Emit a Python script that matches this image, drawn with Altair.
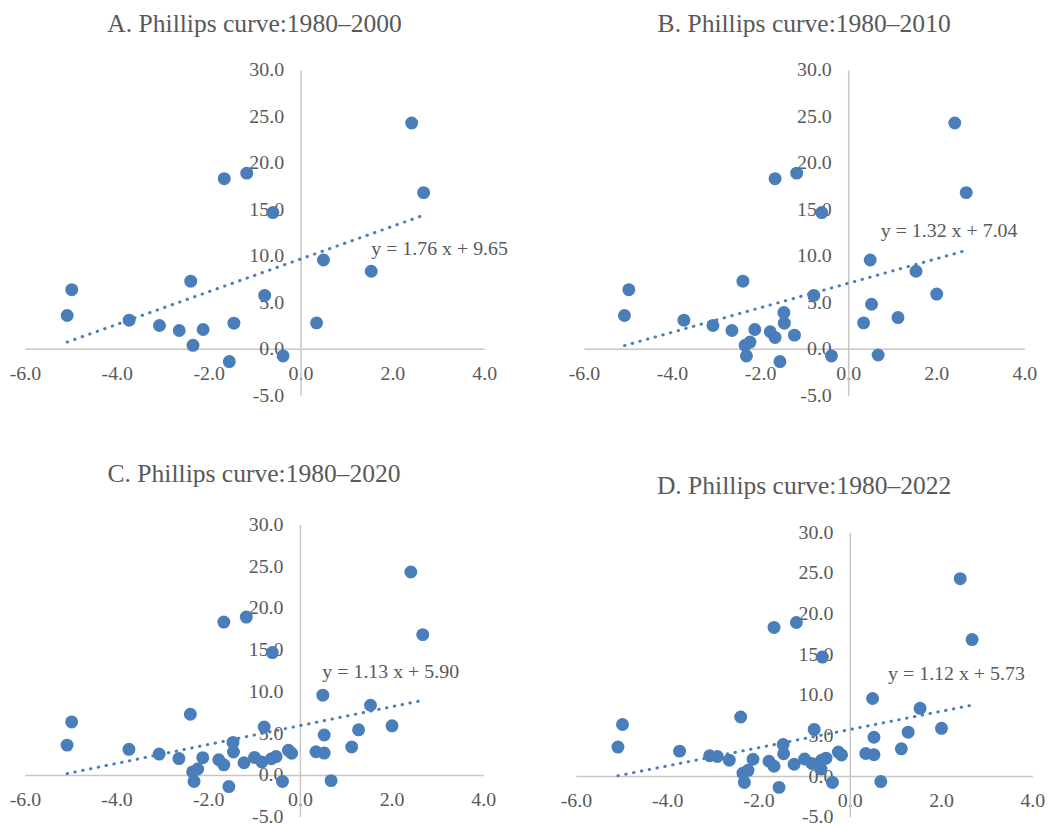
import altair as alt
import pandas as pd

# ---- data (x = output gap, y = inflation) ----
# points present from the 1980–2000 panel onward
x_1980_2000 = [2.42, 2.68, -1.66, -1.17, -0.60, 0.50, 1.54, -2.39, -4.98, -0.78,
               -5.08, -3.73, -3.07, -2.64, -2.12, -1.45, 0.35, -2.34, -1.55, -0.38]
y_1980_2000 = [24.3, 16.8, 18.3, 18.9, 14.65, 9.55, 8.34, 7.27, 6.35, 5.74,
               3.57, 3.07, 2.50, 1.96, 2.07, 2.75, 2.78, 0.36, -1.39, -0.78]
# points added in 2001–2010
x_2001_2010 = [-1.46, 0.53, 2.01, 1.13, -1.77, -1.66, -1.22, -2.23, 0.68, -2.31]
y_2001_2010 = [3.89, 4.78, 5.88, 3.35, 1.82, 1.21, 1.46, 0.71, -0.68, -0.78]
# points added in 2011–2020
x_2011_2020 = [1.28, -0.25, -0.18, 0.53, -0.99, -0.83, -0.62, -0.52]
y_2011_2020 = [5.40, 2.95, 2.60, 2.62, 2.10, 1.55, 1.95, 2.20]
# points added in 2021–2022
x_2021_2022 = [-2.90, -0.63]
y_2021_2022 = [2.41, 0.86]

titles = ["A. Phillips curve:1980–2000", "B. Phillips curve:1980–2010",
          "C. Phillips curve:1980–2020", "D. Phillips curve:1980–2022"]
slopes = [1.76, 1.32, 1.13, 1.12]
intercepts = [9.65, 7.04, 5.90, 5.73]

x_ticks = [-6, -4, -2, 0, 2, 4]
y_ticks = [-5, 0, 5, 10, 15, 20, 25, 30]

# ---- styling / layout ----
BLUE = "#4a7ebb"
GREY = "#595959"
FONT = "Liberation Serif"
X_DOM = [-6, 4]
Y_DOM = [-5, 30]
sizes = [(462, 327), (443, 327), (461, 294), (459, 286)]
eq_pos = [(1.54, 10.77), (0.74, 12.7), (0.49, 12.36), (0.84, 12.6)]
title_offset = [23, 23, 27, 23]

groups_x = [x_1980_2000, x_2001_2010, x_2011_2020, x_2021_2022]
groups_y = [y_1980_2000, y_2001_2010, y_2011_2020, y_2021_2022]

LABEL_EXPR = "(datum.value < 0 ? '-' : '') + format(abs(datum.value), '.1f')"


def panel(i):
    w, h = sizes[i]
    xs = sum(groups_x[: i + 1], [])
    ys = sum(groups_y[: i + 1], [])
    df = pd.DataFrame({"x": xs, "y": ys})
    xmin, xmax = min(xs), max(xs)
    line_df = pd.DataFrame({"x": [xmin, xmax],
                            "y": [slopes[i] * xmin + intercepts[i],
                                  slopes[i] * xmax + intercepts[i]]})
    lab_df = pd.DataFrame({"label": [f"y = {slopes[i]:.2f} x + {intercepts[i]:.2f}"]})

    xscale = alt.Scale(domain=X_DOM, nice=False, zero=False)
    yscale = alt.Scale(domain=Y_DOM, nice=False, zero=False)

    x_axis = alt.Axis(values=x_ticks, labelExpr=LABEL_EXPR, title=None, grid=False,
                      ticks=False, domainColor="#c6c6c6", domainWidth=1.5,
                      labelFont=FONT, labelFontSize=20, labelColor=GREY,
                      labelPadding=15, labelFlush=False, labelOverlap=False,
                      offset=-h * 5 / 35)
    y_axis = alt.Axis(values=y_ticks, labelExpr=LABEL_EXPR, title=None, grid=False,
                      ticks=False, domainColor="#c6c6c6", domainWidth=1.5,
                      labelFont=FONT, labelFontSize=20, labelColor=GREY,
                      labelPadding=17, labelFlush=False, labelOverlap=False,
                      offset=-w * 6 / 10)

    pts = alt.Chart(df).mark_circle(size=170, color=BLUE, opacity=1).encode(
        x=alt.X("x:Q", scale=xscale, axis=x_axis),
        y=alt.Y("y:Q", scale=yscale, axis=y_axis),
    )
    line = alt.Chart(line_df).mark_line(
        color=BLUE, strokeWidth=3, strokeDash=[0.5, 7.5], strokeCap="round"
    ).encode(
        x=alt.X("x:Q", scale=xscale, axis=x_axis),
        y=alt.Y("y:Q", scale=yscale, axis=y_axis),
    )
    ex, ey = eq_pos[i]
    txt = alt.Chart(lab_df).mark_text(
        align="left", baseline="middle", font=FONT, fontSize=20, color=GREY
    ).encode(
        x=alt.X(datum=ex, scale=xscale, axis=x_axis),
        y=alt.Y(datum=ey, scale=yscale, axis=y_axis),
        text="label:N",
    )
    return alt.layer(pts, line, txt).properties(
        width=w, height=h,
        title=alt.Title(titles[i], font=FONT, fontSize=25.7, fontWeight="normal",
                        color=GREY, anchor="middle", frame="group",
                        offset=title_offset[i]),
    )


col1 = alt.vconcat(panel(0), panel(2), spacing=56)
col2 = alt.vconcat(panel(1), panel(3), spacing=68, center=True)
chart = alt.hconcat(col1, col2, spacing=52,
                    padding={"left": 1, "top": 0, "right": 0, "bottom": 0}
                    ).configure_view(stroke=None)

chart.save("out.html", embed_options={"renderer": "svg", "actions": False})
